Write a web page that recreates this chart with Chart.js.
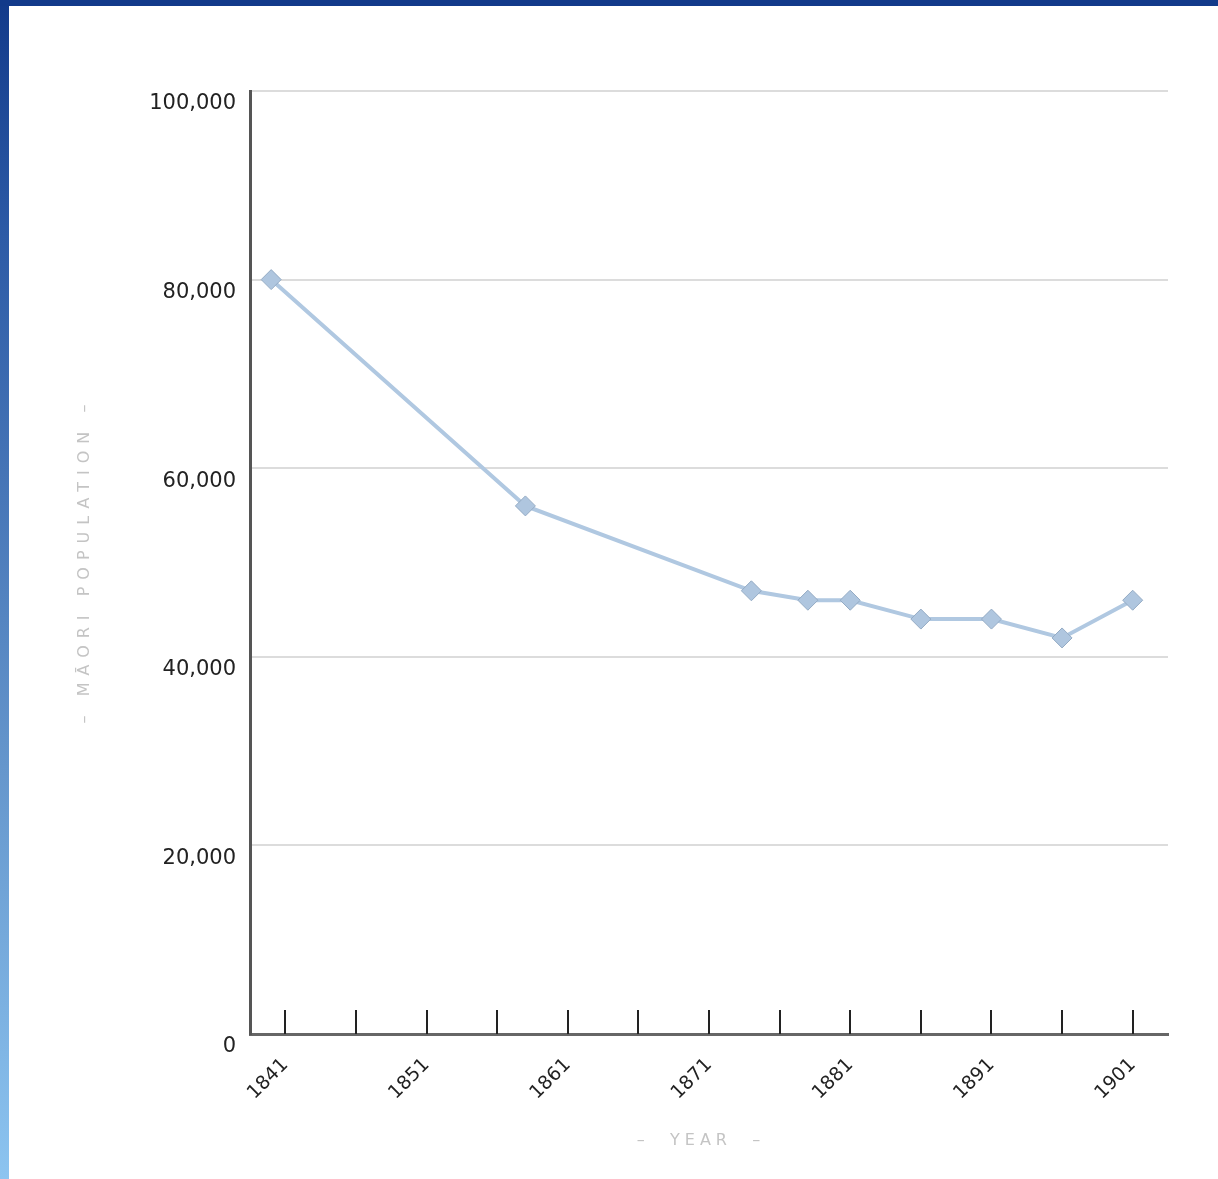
<!DOCTYPE html>
<html>
<head>
<meta charset="utf-8">
<script src="https://cdn.jsdelivr.net/npm/chart.js@4/dist/chart.umd.min.js"></script>
<style>
    html, body {margin: 0; padding: 0; width: 1218px; height: 1179px; overflow: hidden;}
    body {
        position: relative;
        background: linear-gradient(to bottom, #123a8a 0%, #2d5ba6 20%, #4574b6 40%, #6596cc 65%, #8cc4f0 100%);
    }
    .topbar {position: absolute; left: 0; top: 0; width: 1218px; height: 6px; background: #123a8a;}
    .panel {position: absolute; left: 9px; top: 6px; width: 1209px; height: 1173px; background: #fff;}
</style>
</head>
<body>
<div class="topbar"></div>
<div class="panel">
    <canvas id="popChart" width="1209" height="1173"></canvas>
</div>
<script>
// Maori population estimates / census counts
let years = [1840, 1858, 1874, 1878, 1881, 1886, 1891, 1896, 1901];
let population = [80000, 56000, 47000, 46000, 46000, 44000, 44000, 42000, 46000];

let tickYears = [1841, 1846, 1851, 1856, 1861, 1866, 1871, 1876, 1881, 1886, 1891, 1896, 1901];
let labelYears = [1841, 1851, 1861, 1871, 1881, 1891, 1901];

let xTitle = '–  YEAR  –';
let yTitle = '– MĀORI POPULATION –';

// inward tick marks + spaced axis titles
let axisExtras = {
    id: 'axisExtras',
    afterDraw: function (chart) {
        let ctx = chart.ctx;
        let area = chart.chartArea;
        let xScale = chart.scales.x;

        ctx.save();
        ctx.strokeStyle = '#222';
        ctx.lineWidth = 2;
        xScale.ticks.forEach(function (t) {
            let px = Math.round(xScale.getPixelForValue(t.value));
            ctx.beginPath();
            ctx.moveTo(px, area.bottom);
            ctx.lineTo(px, area.bottom - 24);
            ctx.stroke();
        });
        ctx.restore();

        ctx.save();
        ctx.fillStyle = '#c4c4c4';
        ctx.textAlign = 'center';
        ctx.textBaseline = 'middle';
        ctx.font = '16px "DejaVu Sans"';
        ctx.letterSpacing = '5px';
        ctx.fillText(xTitle, 692, 1135);

        ctx.letterSpacing = '7px';
        ctx.translate(76, (area.top + area.bottom) / 2 - 2);
        ctx.rotate(-Math.PI / 2);
        ctx.fillText(yTitle, 0, 0);
        ctx.restore();
    }
};

let points = years.map(function (y, i) {
    return {x: y, y: population[i]};
});

new Chart(document.getElementById('popChart'), {
    type: 'line',
    data: {
        datasets: [{
            data: points,
            borderColor: '#b0c8e1',
            borderWidth: 4,
            pointStyle: 'rectRot',
            pointRadius: 10,
            pointBackgroundColor: '#afc6df',
            pointBorderColor: '#94abc4',
            pointBorderWidth: 1,
            tension: 0
        }]
    },
    options: {
        responsive: false,
        animation: false,
        events: [],
        layout: {padding: {top: 85, right: 50, left: 0, bottom: 0}},
        plugins: {
            legend: {display: false},
            tooltip: {enabled: false}
        },
        scales: {
            x: {
                type: 'linear',
                min: 1838.5,
                max: 1903.5,
                afterBuildTicks: function (scale) {
                    scale.ticks = tickYears.map(function (v) {
                        return {value: v};
                    });
                },
                afterFit: function (scale) {
                    scale.height = 145;
                },
                grid: {display: true, drawOnChartArea: false, drawTicks: false},
                border: {color: '#666', width: 3},
                ticks: {
                    autoSkip: false,
                    minRotation: 45,
                    maxRotation: 45,
                    padding: 20,
                    color: '#222',
                    font: {family: 'DejaVu Sans', size: 19},
                    callback: function (value) {
                        return labelYears.includes(value) ? String(value) : '';
                    }
                }
            },
            y: {
                min: 0,
                max: 100000,
                afterFit: function (scale) {
                    scale.width = 241;
                },
                grid: {color: '#dcdcdc', lineWidth: 2, drawTicks: false},
                border: {color: '#555', width: 3},
                ticks: {
                    stepSize: 20000,
                    padding: 14,
                    labelOffset: 13,
                    color: '#222',
                    font: {family: 'DejaVu Sans', size: 21},
                    callback: function (value) {
                        return value.toLocaleString('en-US');
                    }
                }
            }
        }
    },
    plugins: [axisExtras]
});
</script>
</body>
</html>
